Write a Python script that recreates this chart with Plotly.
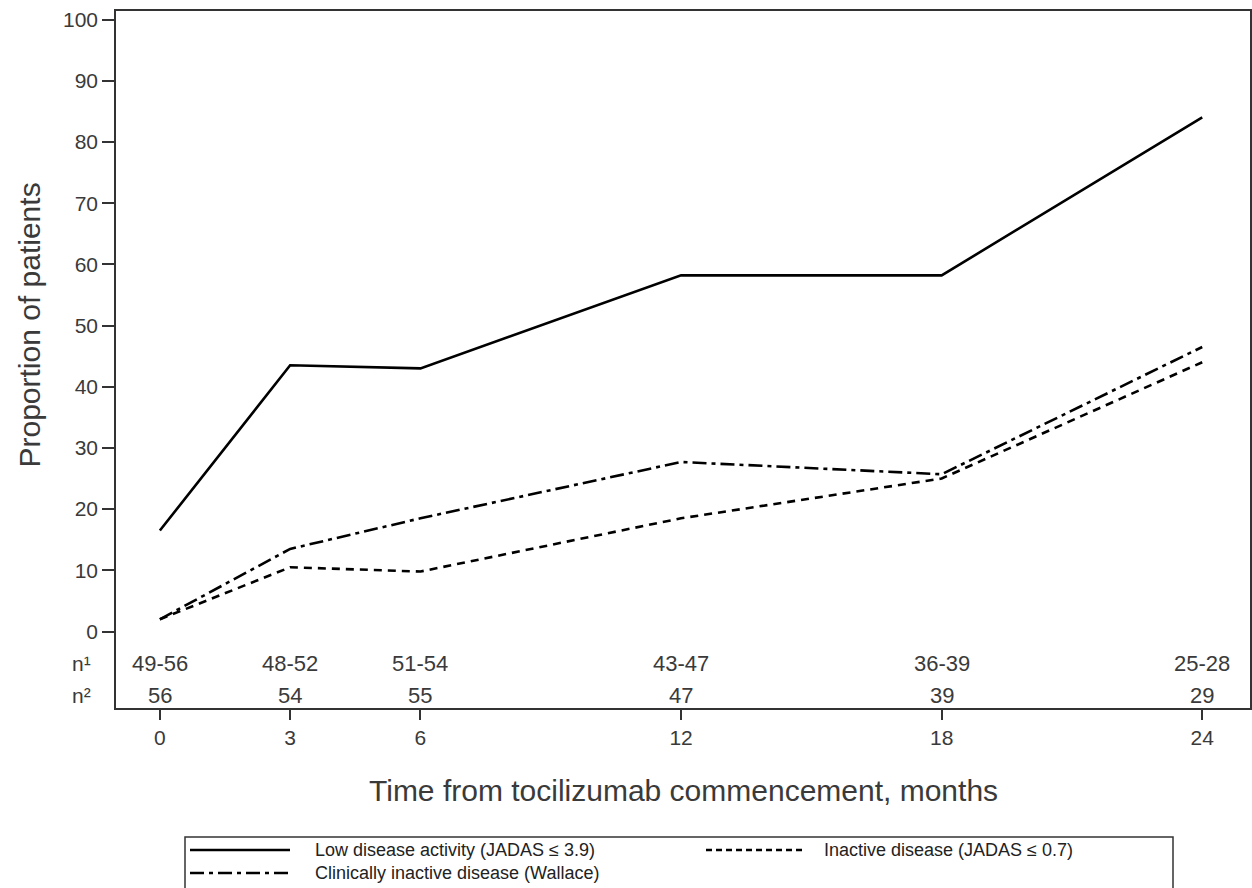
import plotly.graph_objects as go

months = [0, 3, 6, 12, 18, 24]
low_activity = [16.5, 43.5, 43.0, 58.2, 58.2, 84.0]
inactive = [2.0, 10.5, 9.8, 18.5, 25.0, 44.0]
clin_inactive = [2.0, 13.5, 18.5, 27.7, 25.7, 46.5]
n1 = ["49-56", "48-52", "51-54", "43-47", "36-39", "25-28"]
n2 = ["56", "54", "55", "47", "39", "29"]
names = ["Low disease activity (JADAS \u2264 3.9)",
         "Inactive disease (JADAS \u2264 0.7)",
         "Clinically inactive disease (Wallace)"]

FONT = "Liberation Sans, Arial, sans-serif"
TXT = "#3a3a3a"
W, H = 1252, 888
L, R, T, B = 116, 2, 11, 180
PW, PH = W - L - R, H - T - B


def px(x):
    return (x - L) / PW


def py(y):
    return (H - B - y) / PH


DASH = "8px,6px"
DASHDOT = "14px,5px,4px,5px"

fig = go.Figure()
fig.add_trace(go.Scatter(x=months, y=low_activity, mode="lines", name=names[0],
                         line=dict(color="black", width=2.6)))
fig.add_trace(go.Scatter(x=months, y=inactive, mode="lines", name=names[1],
                         line=dict(color="black", width=2.6, dash=DASH)))
fig.add_trace(go.Scatter(x=months, y=clin_inactive, mode="lines", name=names[2],
                         line=dict(color="black", width=2.6, dash=DASHDOT)))

for xm, a, b in zip(months, n1, n2):
    fig.add_annotation(x=xm, y=-5.3, text=a, showarrow=False,
                       font=dict(size=22, color=TXT, family=FONT))
    fig.add_annotation(x=xm, y=-10.5, text=b, showarrow=False,
                       font=dict(size=22, color=TXT, family=FONT))
for yv, lab in [(-5.3, "n\u00b9"), (-10.5, "n\u00b2")]:
    fig.add_annotation(x=px(93), xref="paper", y=yv, text=lab, showarrow=False,
                       xanchor="right", font=dict(size=21, color=TXT, family=FONT))

# axis titles
fig.add_annotation(x=px(30), xref="paper", y=50, yref="y", text="Proportion of patients",
                   textangle=-90, showarrow=False, xanchor="center", yanchor="middle",
                   font=dict(size=30, color=TXT, family=FONT))
fig.add_annotation(x=0.5, xref="paper", y=py(790), yref="paper",
                   text="Time from tocilizumab commencement, months",
                   showarrow=False, xanchor="center", yanchor="middle",
                   font=dict(size=30, color=TXT, family=FONT))

# legend (drawn manually to match the framed two-row key)
fig.add_shape(type="rect", xref="paper", yref="paper",
              x0=px(185), x1=px(1173), y0=py(837), y1=py(900),
              line=dict(color="#333", width=1.5), fillcolor="rgba(0,0,0,0)")
leg = [(names[0], None, 190, 290, 313, 850),
       (names[1], "6px,4px", 706, 806, 822, 850),
       (names[2], DASHDOT, 190, 290, 313, 873)]
for name, dash, sx0, sx1, tx, yy in leg:
    ln = dict(color="black", width=2.6)
    if dash:
        ln["dash"] = dash
    fig.add_shape(type="line", xref="paper", yref="paper",
                  x0=px(sx0), x1=px(sx1), y0=py(yy), y1=py(yy), line=ln)
    fig.add_annotation(x=px(tx), xref="paper", y=py(yy), yref="paper", text=name,
                       showarrow=False, xanchor="left", yanchor="middle",
                       font=dict(size=18, color="#222", family=FONT))

fig.update_layout(
    width=W, height=H,
    margin=dict(l=L, r=R, t=T, b=B),
    paper_bgcolor="white", plot_bgcolor="white",
    font=dict(family=FONT, color=TXT),
    showlegend=False,
)
fig.update_xaxes(range=[-1.01, 25.1], tickvals=months, ticktext=[str(m) for m in months],
                 ticks="outside", ticklen=10, tickcolor="#333", tickwidth=1.5,
                 showline=True, linecolor="#333", linewidth=1.5, mirror=True,
                 showgrid=False, zeroline=False, automargin=False,
                 tickfont=dict(size=21, color=TXT, family=FONT))
fig.update_yaxes(range=[-12.5, 101.4], tickvals=list(range(0, 101, 10)),
                 ticks="outside", ticklen=12, tickcolor="#333", tickwidth=1.5,
                 showline=True, linecolor="#333", linewidth=1.5, mirror=True,
                 showgrid=False, zeroline=False, automargin=False,
                 tickfont=dict(size=21, color=TXT, family=FONT))

fig.write_html("out.html", config={"displayModeBar": False},
               post_script="document.body.style.margin='0';document.body.style.overflow='hidden';")
